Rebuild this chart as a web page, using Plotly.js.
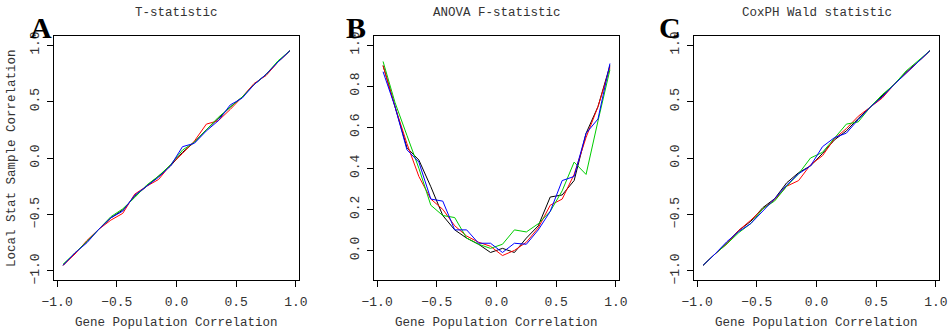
<!DOCTYPE html>
<html>
<head>
<meta charset="utf-8">
<script src="https://cdn.plot.ly/plotly-3.0.1.min.js"></script>
<style>html,body{margin:0;padding:0;background:#fff;}#chart{width:951px;height:332px;}</style>
</head>
<body>
<div id="chart"></div>
<script>
// Gene population correlation (x)
const geneCorr = [-0.95,-0.85,-0.75,-0.65,-0.55,-0.45,-0.35,-0.25,-0.15,-0.05,0.05,0.15,0.25,0.35,0.45,0.55,0.65,0.75,0.85,0.95];

// Panel A: T-statistic
const tBlack = [-0.95,-0.84,-0.74,-0.63,-0.53,-0.46,-0.34,-0.25,-0.16,-0.07,0.05,0.14,0.25,0.35,0.45,0.54,0.65,0.74,0.85,0.95];
const tRed   = [-0.95,-0.85,-0.73,-0.63,-0.55,-0.49,-0.32,-0.25,-0.19,-0.06,0.04,0.15,0.30,0.33,0.43,0.54,0.66,0.73,0.85,0.95];
const tGreen = [-0.94,-0.84,-0.74,-0.63,-0.52,-0.45,-0.35,-0.24,-0.16,-0.06,0.07,0.14,0.25,0.36,0.45,0.54,0.65,0.74,0.86,0.95];
const tBlue  = [-0.95,-0.84,-0.75,-0.63,-0.53,-0.47,-0.33,-0.25,-0.17,-0.07,0.10,0.13,0.24,0.33,0.47,0.53,0.65,0.74,0.85,0.95];

// Panel B: ANOVA F-statistic
const fBlack = [0.90,0.70,0.50,0.44,0.31,0.17,0.10,0.06,0.03,-0.01,0.01,-0.01,0.06,0.12,0.26,0.27,0.34,0.57,0.70,0.90];
const fRed   = [0.90,0.70,0.52,0.36,0.25,0.20,0.12,0.07,0.04,0.02,-0.025,0.00,0.04,0.11,0.22,0.25,0.37,0.55,0.70,0.89];
const fGreen = [0.92,0.72,0.56,0.40,0.22,0.17,0.16,0.06,0.03,0.01,0.03,0.10,0.09,0.13,0.19,0.29,0.43,0.37,0.63,0.88];
const fBlue  = [0.87,0.70,0.49,0.43,0.25,0.24,0.10,0.10,0.035,0.035,-0.01,0.035,0.03,0.10,0.19,0.34,0.36,0.57,0.64,0.91];

// Panel C: CoxPH Wald statistic
const wBlack = [-0.95,-0.85,-0.75,-0.64,-0.56,-0.44,-0.36,-0.22,-0.13,-0.07,0.04,0.16,0.24,0.35,0.45,0.55,0.65,0.76,0.85,0.95];
const wRed   = [-0.95,-0.85,-0.76,-0.64,-0.55,-0.45,-0.37,-0.25,-0.20,-0.06,0.02,0.17,0.26,0.37,0.45,0.53,0.65,0.75,0.85,0.95];
const wGreen = [-0.95,-0.85,-0.76,-0.66,-0.58,-0.45,-0.38,-0.25,-0.14,0.00,0.05,0.18,0.30,0.32,0.45,0.56,0.65,0.77,0.86,0.95];
const wBlue  = [-0.95,-0.85,-0.74,-0.65,-0.58,-0.47,-0.36,-0.24,-0.14,-0.07,0.10,0.18,0.22,0.34,0.45,0.54,0.65,0.75,0.85,0.95];

const panelTitles = ["T-statistic", "ANOVA F-statistic", "CoxPH Wald statistic"];
const panelLetters = ["A", "B", "C"];
const xTicks = [-1.0, -0.5, 0.0, 0.5, 1.0];
const xTickText = ["\u22121.0", "\u22120.5", "0.0", "0.5", "1.0"];
const yTicksAC = [-1.0, -0.5, 0.0, 0.5, 1.0];
const yTickTextAC = ["\u22121.0", "\u22120.5", "0.0", "0.5", "1.0"];
const yTicksB = [0.0, 0.2, 0.4, 0.6, 0.8, 1.0];
const yTickTextB = ["0.0", "0.2", "0.4", "0.6", "0.8", "1.0"];

const colors = ["#000000", "#ff0000", "#00cc00", "#0000ff"];
const seriesSets = [
  [tBlack, tRed, tGreen, tBlue],
  [fBlack, fRed, fGreen, fBlue],
  [wBlack, wRed, wGreen, wBlue]
];

const W = 951, H = 332;
const boxLeft = [54, 374, 694], boxW = 245, boxTop = 36, boxBottom = 280;
const mono = "'Liberation Mono', 'DejaVu Sans Mono', monospace";

const traces = [];
seriesSets.forEach((set, p) => {
  set.forEach((ys, i) => {
    traces.push({
      x: geneCorr, y: ys, type: "scatter", mode: "lines",
      line: {color: colors[i], width: 1},
      xaxis: p === 0 ? "x" : "x" + (p + 1),
      yaxis: p === 0 ? "y" : "y" + (p + 1),
      showlegend: false, hoverinfo: "skip"
    });
  });
});

const layout = {
  width: W, height: H,
  margin: {l: 0, r: 0, t: 0, b: 0},
  paper_bgcolor: "#fff", plot_bgcolor: "#fff",
  showlegend: false,
  annotations: []
};

const yDom = [(H - boxBottom) / H, (H - boxTop) / H];
for (let p = 0; p < 3; p++) {
  const sx = p === 0 ? "" : String(p + 1);
  const xd = [boxLeft[p] / W, (boxLeft[p] + boxW) / W];
  const common = {
    showline: true, mirror: true, linecolor: "#000", linewidth: 1,
    ticks: "outside", ticklen: 6, tickwidth: 1, tickcolor: "#000",
    showgrid: false, zeroline: false, fixedrange: true,
    tickfont: {family: mono, size: 13, color: "#333"}
  };
  layout["xaxis" + sx] = Object.assign({}, common, {
    domain: xd, anchor: "y" + sx, range: [-1.026, 1.026],
    tickmode: "array", tickvals: xTicks, ticktext: xTickText,
    ticklabelstandoff: 3
  });
  layout["yaxis" + sx] = Object.assign({}, common, {
    domain: yDom, anchor: "x" + sx,
    range: p === 1 ? [-0.144, 1.044] : [-1.08, 1.08],
    tickmode: "array",
    tickvals: p === 1 ? yTicksB : yTicksAC,
    ticktext: p === 1 ? yTickTextB : yTickTextAC,
    tickangle: -90, ticklabelstandoff: 3
  });
  const cx = (boxLeft[p] + boxW / 2) / W;
  layout.annotations.push({
    xref: "paper", yref: "paper", x: cx, y: 1 - 13 / H,
    text: panelTitles[p], showarrow: false, xanchor: "center", yanchor: "middle",
    font: {family: mono, size: 12.5, color: "#333"}
  });
  layout.annotations.push({
    xref: "paper", yref: "paper", x: cx, y: 1 - 323 / H,
    text: "Gene Population Correlation", showarrow: false, xanchor: "center", yanchor: "middle",
    font: {family: mono, size: 12.5, color: "#333"}
  });
  const lx = [40.5, 356, 670][p];
  layout.annotations.push({
    xref: "paper", yref: "paper", x: lx / W, y: 1 - 27 / H,
    text: "<b>" + panelLetters[p] + "</b>", showarrow: false, xanchor: "center", yanchor: "middle",
    font: {family: "'Liberation Serif', 'DejaVu Serif', serif", size: 30, color: "#000"}
  });
}
layout.annotations.push({
  xref: "paper", yref: "paper", x: 12 / W, y: 1 - ((boxTop + boxBottom) / 2) / H,
  text: "Local Stat Sample Correlation", showarrow: false, textangle: -90,
  xanchor: "center", yanchor: "middle",
  font: {family: mono, size: 12.5, color: "#333"}
});

Plotly.newPlot("chart", traces, layout, {displayModeBar: false, staticPlot: true});
</script>
</body>
</html>
